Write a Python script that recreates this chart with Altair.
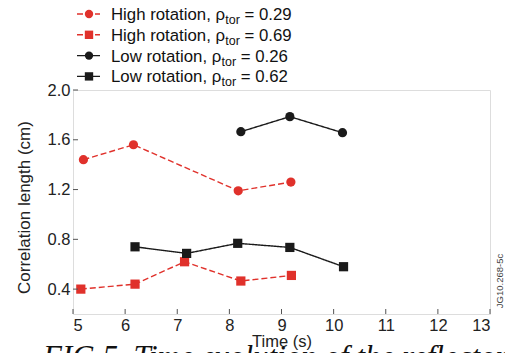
import altair as alt
import pandas as pd

# ---- data ----
series_names = [
    "High rotation, rho_tor = 0.29",
    "High rotation, rho_tor = 0.69",
    "Low rotation, rho_tor = 0.26",
    "Low rotation, rho_tor = 0.62",
]
high029_t = [5.2, 6.16, 8.17, 9.18]
high029_v = [1.44, 1.56, 1.19, 1.26]
high069_t = [5.15, 6.19, 7.14, 8.22, 9.19]
high069_v = [0.40, 0.44, 0.62, 0.465, 0.51]
low026_t = [8.22, 9.16, 10.17]
low026_v = [1.665, 1.786, 1.657]
low062_t = [6.19, 7.18, 8.16, 9.16, 10.19]
low062_v = [0.74, 0.687, 0.768, 0.735, 0.58]

x_ticks = [5, 6, 7, 8, 9, 10, 11, 12, 13]
y_ticks = [0.4, 0.8, 1.2, 1.6, 2.0]

legend_main = ["High rotation, ρ", "High rotation, ρ", "Low rotation, ρ", "Low rotation, ρ"]
legend_sub = ["tor", "tor", "tor", "tor"]
legend_val = ["= 0.29", "= 0.69", "= 0.26", "= 0.62"]

caption = "FIG.5. Time evolution of the reflectometry"
watermark = "JG10.268-5c"

RED = "#e0312b"
BLACK = "#1a1a1a"
colors = [RED, RED, BLACK, BLACK]
shapes = ["circle", "square", "circle", "square"]
dashes = [[6, 3], [6, 3], [1, 0], [1, 0]]

rows = []
for name, ts, vs in zip(series_names,
                        [high029_t, high069_t, low026_t, low062_t],
                        [high029_v, high069_v, low026_v, low062_v]):
    for t, v in zip(ts, vs):
        rows.append({"series": name, "t": t, "v": v})
df = pd.DataFrame(rows)

W, H = 417, 224
FONT = "Liberation Sans"

xs = alt.Scale(domain=[5, 13], nice=False, zero=False)
ys = alt.Scale(domain=[0.2, 2.0], nice=False, zero=False)

base = alt.Chart(df)

lines = base.mark_line(strokeWidth=1.4).encode(
    x=alt.X("t:Q", scale=xs,
            axis=alt.Axis(values=x_ticks, format="d", grid=False, domain=False, ticks=False,
                          labelPadding=3, labelFontSize=16.5, labelColor="#222",
                          title="Time (s)", titleFontSize=16.5, titleFontWeight="normal",
                          titleColor="#222", titleX=208.5, titleY=27, titleBaseline="middle",
                          titleAlign="center")),
    y=alt.Y("v:Q", scale=ys,
            axis=alt.Axis(values=y_ticks, format=".1f", grid=False, domain=False, ticks=False,
                          labelPadding=3, labelFontSize=16.5, labelColor="#222",
                          title="Correlation length (cm)", titleFontSize=17,
                          titleFontWeight="normal", titleColor="#222",
                          titleX=-49, titleY=117, titleAngle=270, titleBaseline="middle",
                          titleAlign="center")),
    color=alt.Color("series:N", scale=alt.Scale(domain=series_names, range=colors), legend=None),
    strokeDash=alt.StrokeDash("series:N", scale=alt.Scale(domain=series_names, range=dashes),
                              legend=None),
    detail="series:N",
)

points = base.mark_point(filled=True, size=85, opacity=1).encode(
    x=alt.X("t:Q", scale=xs),
    y=alt.Y("v:Q", scale=ys),
    color=alt.Color("series:N", scale=alt.Scale(domain=series_names, range=colors), legend=None),
    shape=alt.Shape("series:N", scale=alt.Scale(domain=series_names, range=shapes), legend=None),
)

xt = alt.Chart(pd.DataFrame({"t": x_ticks})).mark_rule(color="#555", strokeWidth=1).encode(
    x=alt.X("t:Q", scale=xs), y=alt.value(H), y2=alt.value(H - 5))
yt = alt.Chart(pd.DataFrame({"v": y_ticks})).mark_rule(color="#555", strokeWidth=1).encode(
    y=alt.Y("v:Q", scale=ys), x=alt.value(0), x2=alt.value(5))

# ---- manual legend (with subscript) ----
one = pd.DataFrame({"a": [0]})
adv = {"H": 722, "i": 222, "g": 556, "h": 556, " ": 278, "r": 333, "o": 556, "t": 278,
       "a": 556, "n": 556, ",": 278, "L": 556, "w": 722, "ρ": 578}
LFS = 16.8
SFS = 12.5
legend_layers = []
base_y = [-70, -49.2, -28.4, -7.6]
for i in range(4):
    by = base_y[i]
    my = by - 6
    legend_layers.append(alt.Chart(one).mark_rule(
        color=colors[i], strokeWidth=1.4, strokeDash=dashes[i]).encode(
        x=alt.value(4), x2=alt.value(27), y=alt.value(my)))
    legend_layers.append(alt.Chart(one).mark_point(
        filled=True, size=70, opacity=1, shape=shapes[i], color=colors[i]).encode(
        x=alt.value(16), y=alt.value(my)))
    x0 = 38
    wmain = sum(adv.get(c, 556) for c in legend_main[i]) * LFS / 1000
    xsub = x0 + wmain
    wsub = (278 + 556 + 333) * SFS / 1000
    xeq = xsub + wsub + 278 * LFS / 1000
    legend_layers.append(alt.Chart(one).mark_text(
        text=legend_main[i], align="left", baseline="alphabetic", fontSize=LFS,
        font=FONT, color="#111").encode(x=alt.value(x0), y=alt.value(by)))
    legend_layers.append(alt.Chart(one).mark_text(
        text=legend_sub[i], align="left", baseline="alphabetic", fontSize=SFS,
        font=FONT, color="#111").encode(x=alt.value(xsub), y=alt.value(by + 4)))
    legend_layers.append(alt.Chart(one).mark_text(
        text=legend_val[i], align="left", baseline="alphabetic", fontSize=LFS,
        font=FONT, color="#111").encode(x=alt.value(xeq), y=alt.value(by)))

wm = alt.Chart(one).mark_text(text=watermark, angle=270, fontSize=9.5, font=FONT,
                              color="#444", align="center", baseline="middle").encode(
    x=alt.value(426.5), y=alt.value(191))

cap = alt.Chart(one).mark_text(text=caption, align="left", baseline="alphabetic",
                               fontSize=31, font="Liberation Serif", fontStyle="italic",
                               color="#111").encode(x=alt.value(-30), y=alt.value(277))

chart = alt.layer(lines, points, xt, yt, wm, cap, *legend_layers).properties(
    width=W, height=H,
    autosize=alt.AutoSizeParams(type="none"),
    padding={"left": 65, "top": 82, "right": 15, "bottom": 39},
).configure_view(stroke="#555", strokeWidth=1).configure(font=FONT)

chart.save("out.html", embed_options={"renderer": "svg", "actions": False})
